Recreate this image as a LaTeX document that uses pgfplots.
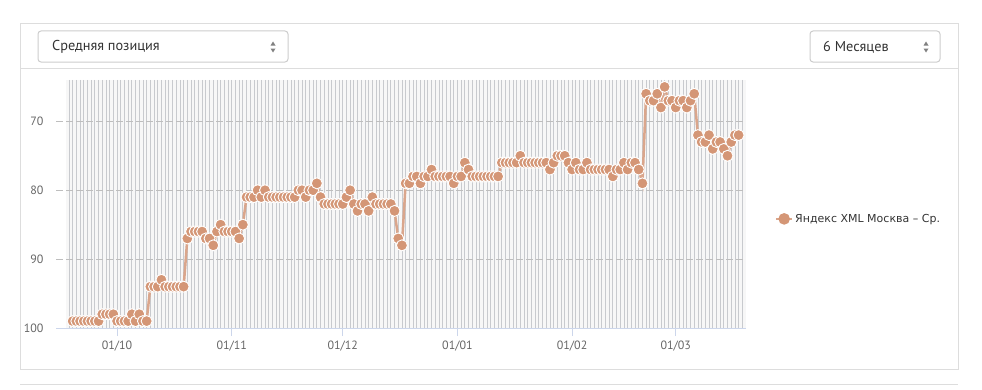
\documentclass[border=0pt]{standalone}
\usepackage{fontspec}
\setmainfont{PT Sans}
\newfontfamily\dejavu{DejaVu Sans}
\usepackage{pgfplots}
\pgfplotsset{compat=1.18}
\definecolor{serc}{RGB}{212,150,118}
\definecolor{serl}{RGB}{218,166,140}
\definecolor{cardb}{RGB}{221,221,221}
\definecolor{boxb}{RGB}{204,204,204}
\definecolor{vgrid}{RGB}{200,202,206}
\definecolor{hgrid}{RGB}{190,190,190}
\definecolor{axc}{RGB}{204,214,235}
\definecolor{tgray}{RGB}{102,102,102}
\definecolor{tdark}{RGB}{51,51,51}
\definecolor{bgband}{RGB}{247,247,247}
\begin{document}
\begin{tikzpicture}
\begin{scope}[x=1bp,y=1bp]
\path[use as bounding box] (0,0) rectangle (982,389);
% card
\draw[cardb, line width=1bp] (20,20) rectangle (958,365);
\draw[cardb, line width=1bp] (20,321) -- (958,321);
\draw[cardb, line width=1bp] (20,5) -- (958,5);
% select boxes
\draw[boxb, line width=1bp, rounded corners=3bp] (38,327) rectangle (288,358);
\draw[boxb, line width=1bp, rounded corners=3bp] (810,327) rectangle (940,358);
\node[anchor=west, inner sep=0, text=tdark, font=\fontsize{14.3bp}{16bp}\selectfont] at (52,342) {Средняя позиция};
\node[anchor=west, inner sep=0, text=tdark, font=\fontsize{14.3bp}{16bp}\selectfont] at (823,342) {6 Месяцев};
\fill[gray] (270.5,343.5) -- (275.5,343.5) -- (273,347.5) -- cycle;
\fill[gray] (270.5,340.5) -- (275.5,340.5) -- (273,336.5) -- cycle;
\fill[gray] (923.5,343.5) -- (928.5,343.5) -- (926,347.5) -- cycle;
\fill[gray] (923.5,340.5) -- (928.5,340.5) -- (926,336.5) -- cycle;
\end{scope}
\begin{axis}[
  set layers,
  at={(56bp,61bp)}, anchor=south west,
  scale only axis, width=690bp, height=248bp,
  xmin=-16.5, xmax=170, ymin=64, ymax=100,
  y dir=reverse,
  axis x line*=bottom, axis y line*=left,
  x axis line style={draw=axc, line width=1bp, -},
  y axis line style={draw=none},
  xtick={0,31,61,92,123,151},
  xticklabels={01/10,01/11,01/12,01/01,01/02,01/03},
  minor xtick={-13,...,169},
  xminorgrids=true,
  minor x grid style={draw=vgrid, line width=0.8bp},
  minor tick length=0pt,
  ytick={70,80,90},
  extra y ticks={100},
  extra y tick style={grid=none},
  ymajorgrids=true,
  major y grid style={draw=hgrid, line width=0.8bp, dash pattern=on 7bp off 3bp},
  tick align=outside,
  major tick length=8bp,
  xtick style={draw=axc, line width=1bp},
  ytick style={draw=none},
  /pgf/number format/assume math mode=true,
  tick label style={text=tgray, font=\fontsize{12bp}{14bp}\selectfont},
  xticklabel style={yshift=-1bp},
  yticklabel style={xshift=-1bp},
  legend style={at={(1.042,0.44)}, anchor=west, draw=none, fill=none,
    font=\dejavu\fontsize{11bp}{13bp}\selectfont, text=tdark,
    inner sep=0pt},
  legend image code/.code={
    \draw[serl, line width=2bp] (0bp,0bp) -- (16bp,0bp);
    \fill[serc] (8bp,0bp) circle (4.5bp);
  },
  clip=false,
]
\begin{pgfonlayer}{axis background}
\fill[bgband] (axis cs:-13.8,64) rectangle (axis cs:170,100);
\end{pgfonlayer}
\addplot[serl, line width=2.5bp, mark=*, mark size=5.5bp,
  mark options={fill=serc, draw=white, line width=0.9bp}]
  table {
x y
-12 99
-11 99
-10 99
-9 99
-8 99
-7 99
-6 99
-5 99
-4 98
-3 98
-2 98
-1 98
0 99
1 99
2 99
3 99
4 98
5 99
6 98
7 99
8 99
9 94
10 94
11 94
12 93
13 94
14 94
15 94
16 94
17 94
18 94
19 87
20 86
21 86
22 86
23 86
24 87
25 87
26 88
27 86
28 85
29 86
30 86
31 86
32 86
33 87
34 85
35 81
36 81
37 81
38 80
39 81
40 80
41 81
42 81
43 81
44 81
45 81
46 81
47 81
48 81
49 80
50 80
51 81
52 80
53 80
54 79
55 81
56 82
57 82
58 82
59 82
60 82
61 82
62 81
63 80
64 82
65 83
66 82
67 82
68 83
69 81
70 82
71 82
72 82
73 82
74 82
75 83
76 87
77 88
78 79
79 79
80 78
81 78
82 79
83 78
84 78
85 77
86 78
87 78
88 78
89 78
90 78
91 79
92 78
93 78
94 76
95 77
96 78
97 78
98 78
99 78
100 78
101 78
102 78
103 78
104 76
105 76
106 76
107 76
108 76
109 75
110 76
111 76
112 76
113 76
114 76
115 76
116 76
117 77
118 76
119 75
120 75
121 75
122 76
123 77
124 76
125 77
126 77
127 76
128 77
129 77
130 77
131 77
132 77
133 77
134 78
135 77
136 77
137 76
138 77
139 76
140 76
141 77
142 79
143 66
144 67
145 67
146 66
147 68
148 65
149 67
150 67
151 68
152 67
153 67
154 68
155 67
156 66
157 72
158 73
159 73
160 72
161 74
162 73
163 73
164 74
165 75
166 73
167 72
168 72
};
\addlegendentry{Яндекс XML Москва – Ср.}
\end{axis}
\end{tikzpicture}
\end{document}
